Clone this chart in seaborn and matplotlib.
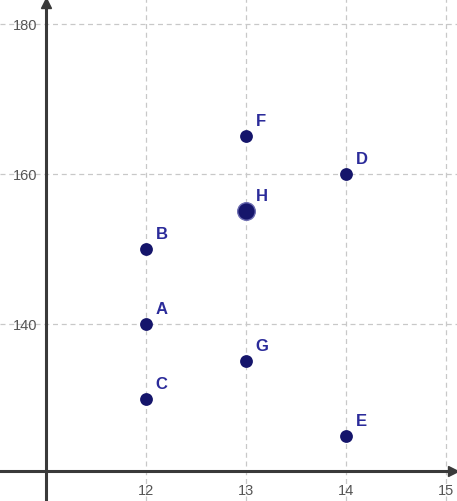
import matplotlib
matplotlib.use("Agg")
import matplotlib.pyplot as plt
import seaborn as sns
import pandas as pd

# Data
point_names = ["A", "B", "C", "D", "E", "F", "G", "H"]
x_values = [12, 12, 12, 14, 14, 13, 13, 13]
y_values = [140, 150, 130, 160, 125, 165, 135, 155]
x_ticks = [12, 13, 14, 15]
y_ticks = [140, 160, 180]

df = pd.DataFrame({"name": point_names, "x": x_values, "y": y_values})

sns.set_style("white")
plt.rcParams['font.family'] = ['Liberation Sans', 'DejaVu Sans']

fig = plt.figure(figsize=(4.57, 5.02), dpi=100)
ax = fig.add_axes([0, 0, 1, 1])

x_axis_y = 120.4
ax.set_xlim(10.54, 15.11)
ax.set_ylim(116.4, 183.3)

# grid
for xv in x_ticks:
    ax.axvline(xv, color="#c8c8c8", lw=0.9, ls=(0, (4, 3)), zorder=0)
for yv in y_ticks:
    ax.axhline(yv, color="#c8c8c8", lw=0.9, ls=(0, (4, 3)), zorder=0)

dot = "#15156b"
normal = df[df["name"] != "H"]
big = df[df["name"] == "H"]
sns.scatterplot(data=normal, x="x", y="y", ax=ax, color=dot, s=85,
                edgecolor=dot, linewidth=0, zorder=5, legend=False)
sns.scatterplot(data=big, x="x", y="y", ax=ax, color=dot, s=160,
                edgecolor="#6a6ab0", linewidth=1.0, zorder=5, legend=False)

for _, r in df.iterrows():
    ax.annotate(r["name"], (r["x"], r["y"]), xytext=(7, 8),
                textcoords="offset points", color="#2b2b9a",
                fontsize=12, fontweight="bold", zorder=6)

# axes styled like GeoGebra
for s in ["top", "right"]:
    ax.spines[s].set_visible(False)
ax.spines["left"].set_position(("data", 11))
ax.spines["bottom"].set_position(("data", x_axis_y))
ax.spines["left"].set_color("#3a3a3a")
ax.spines["bottom"].set_color("#3a3a3a")
ax.spines["left"].set_linewidth(2.2)
ax.spines["bottom"].set_linewidth(2.2)
ax.spines["left"].set_bounds(116.4, 182.6)
ax.spines["bottom"].set_bounds(10.54, 15.05)

ax.set_xticks(x_ticks)
ax.set_yticks(y_ticks)
ax.set_xticklabels([str(v) for v in x_ticks])
ax.set_yticklabels([str(v) for v in y_ticks])
ax.tick_params(axis="x", direction="inout", length=6, width=1.0,
               color="#3a3a3a", labelcolor="#555555", labelsize=10.5, pad=6)
ax.tick_params(axis="y", direction="inout", length=6, width=1.0,
               color="#3a3a3a", labelcolor="#555555", labelsize=10.5, pad=3)
ax.set_xlabel("")
ax.set_ylabel("")

# arrows
ax.plot([15.07], [x_axis_y], marker=">", color="#3a3a3a", ms=7, clip_on=False, zorder=7)
ax.plot([11], [182.8], marker="^", color="#3a3a3a", ms=7, clip_on=False, zorder=7)

fig.savefig("out.png", dpi=100)
